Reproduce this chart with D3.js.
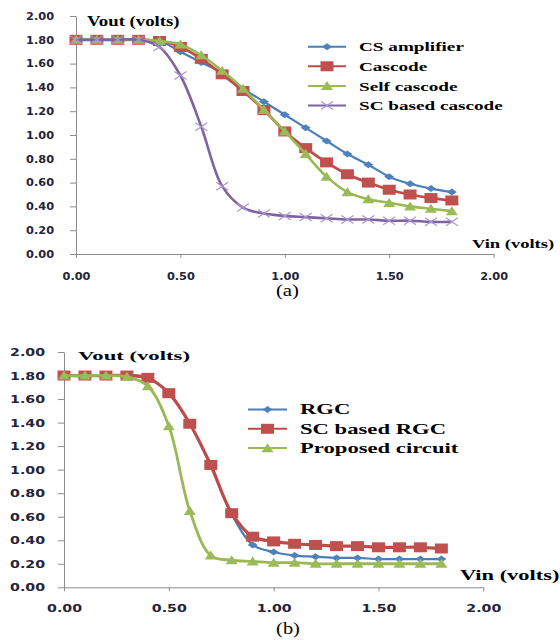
<!DOCTYPE html>
<html>
<head>
<meta charset="utf-8">
<script src="https://cdn.jsdelivr.net/npm/d3@7"></script>
<style>
  body { margin: 0; background: #fff; }
  svg { display: block; }
</style>
</head>
<body>
<svg id="chart" width="560" height="640"></svg>
<script>
// input voltage sweep, shared by both panels
const vin = [0.0, 0.1, 0.2, 0.3, 0.4, 0.5, 0.6, 0.7, 0.8, 0.9, 1.0, 1.1, 1.2, 1.3, 1.4, 1.5, 1.6, 1.7, 1.8]

// panel (a)
const csAmplifier = [1.80, 1.80, 1.80, 1.80, 1.79, 1.70, 1.61, 1.52, 1.39, 1.28, 1.17, 1.06, 0.95, 0.84, 0.75, 0.65, 0.59, 0.55, 0.52]
const cascode     = [1.80, 1.80, 1.80, 1.80, 1.79, 1.74, 1.64, 1.51, 1.37, 1.21, 1.03, 0.89, 0.77, 0.67, 0.60, 0.54, 0.50, 0.47, 0.45]
const selfCascode = [1.80, 1.80, 1.80, 1.80, 1.79, 1.76, 1.67, 1.54, 1.39, 1.21, 1.03, 0.84, 0.65, 0.52, 0.46, 0.43, 0.40, 0.38, 0.36]
const scCascode   = [1.80, 1.80, 1.80, 1.80, 1.74, 1.50, 1.07, 0.57, 0.39, 0.34, 0.32, 0.31, 0.30, 0.29, 0.29, 0.28, 0.28, 0.27, 0.27]
const namesA = ["CS amplifier", "Cascode", "Self cascode", "SC based cascode"]

// panel (b)
const rgc      = [1.80, 1.80, 1.80, 1.80, 1.77, 1.65, 1.39, 1.03, 0.62, 0.36, 0.30, 0.27, 0.26, 0.25, 0.25, 0.24, 0.24, 0.24, 0.24]
const scRgc    = [1.80, 1.80, 1.80, 1.80, 1.78, 1.65, 1.39, 1.04, 0.63, 0.43, 0.39, 0.37, 0.36, 0.35, 0.35, 0.34, 0.34, 0.34, 0.33]
const proposed = [1.80, 1.80, 1.80, 1.79, 1.71, 1.37, 0.65, 0.27, 0.23, 0.22, 0.21, 0.21, 0.20, 0.20, 0.20, 0.20, 0.20, 0.20, 0.20]
const namesB = ["RGC", "SC based RGC", "Proposed circuit"]

const xTicks = [0, 0.5, 1.0, 1.5, 2.0]
const yTicks = [0, 0.2, 0.4, 0.6, 0.8, 1.0, 1.2, 1.4, 1.6, 1.8, 2.0]

const serif = "'Liberation Serif', 'Times New Roman', serif"
const sans = "'DejaVu Sans', Verdana, sans-serif"
const axisColor = "#8c8c8c"
const labelColor = "#24243a"

const blue   = { line: "#4a7ebb", mark: "#4f81bd", width: 2.2, shape: "diamond", w: 10, h: 7 }
const red    = { line: "#be4b48", mark: "#c0504d", width: 2.8, shape: "square", w: 13, h: 10 }
const green  = { line: "#98b954", mark: "#9bbb59", width: 2.6, shape: "triangle", w: 12, h: 9 }
const purple = { line: "#7f63a1", mark: "#a994cf", width: 2.6, shape: "cross", w: 12, h: 8 }

const svg = d3.select("#chart")

// the scanned figure is stretched sideways, so text gets widened to match
function stretch (sel, sx) {
    sel.attr("lengthAdjust", "spacingAndGlyphs")
        .attr("textLength", function () { return this.getComputedTextLength() * sx })
}

function markerPath (shape, w, h) {
    const a = w / 2, b = h / 2
    if (shape == "diamond") return `M0,${-b}L${a},0L0,${b}L${-a},0Z`
    if (shape == "square") return `M${-a},${-b}H${a}V${b}H${-a}Z`
    if (shape == "triangle") return `M0,${-h * 0.55}L${a},${h * 0.45}L${-a},${h * 0.45}Z`
    return `M${-a},${-b}L${a},${b}M${a},${-b}L${-a},${b}`
}

function drawMarkers (g, points, st) {
    const cross = st.shape == "cross"
    g.selectAll(null).data(points).enter().append("path")
        .attr("transform", d => `translate(${d[0]},${d[1]})`)
        .attr("d", markerPath(st.shape, st.w, st.h))
        .attr("fill", cross ? "none" : st.mark)
        .attr("stroke", cross ? st.mark : "none")
        .attr("stroke-width", cross ? 1.2 : 0)
}

function panel (cfg) {
    const x = d3.scaleLinear().domain([0, 2]).range([cfg.left, cfg.right])
    const y = d3.scaleLinear().domain([0, 2]).range([cfg.bottom, cfg.top])
    const g = svg.append("g")

    const yAxis = g.append("g")
        .attr("transform", `translate(${cfg.left},0)`)
        .call(d3.axisLeft(y).tickValues(yTicks).tickFormat(d3.format(".2f"))
            .tickSize(6).tickSizeOuter(0).tickPadding(cfg.yPad))
    const xAxis = g.append("g")
        .attr("transform", `translate(0,${cfg.bottom})`)
        .call(d3.axisBottom(x).tickValues(xTicks).tickFormat(d3.format(".2f"))
            .tickSize(4).tickSizeOuter(0).tickPadding(cfg.xPad))

    ;[yAxis, xAxis].forEach(a => {
        a.attr("font-family", sans).attr("font-size", cfg.tickFont).attr("font-weight", "bold")
        a.select(".domain").attr("stroke", axisColor)
        a.selectAll(".tick line").attr("stroke", axisColor)
        a.selectAll(".tick text").attr("fill", labelColor).call(stretch, cfg.tickStretch)
    })

    const line = d3.line()
        .x((d, i) => x(vin[i]))
        .y(d => y(d))
        .curve(d3.curveCatmullRom.alpha(0.5))

    cfg.series.forEach((values, k) => {
        const st = cfg.styles[k]
        g.append("path")
            .attr("d", line(values))
            .attr("fill", "none")
            .attr("stroke", st.line)
            .attr("stroke-width", st.width)
        drawMarkers(g, values.map((v, i) => [x(vin[i]), y(v)]), st)
    })

    // legend
    const lg = g.append("g")
    cfg.names.forEach((name, k) => {
        const st = cfg.styles[k]
        const ly = cfg.legend.y + k * cfg.legend.step
        lg.append("line")
            .attr("x1", cfg.legend.x0).attr("x2", cfg.legend.x1)
            .attr("y1", ly).attr("y2", ly)
            .attr("stroke", st.line).attr("stroke-width", 2)
        drawMarkers(lg, [[(cfg.legend.x0 + cfg.legend.x1) / 2, ly]], st)
        lg.append("text")
            .attr("x", cfg.legend.tx).attr("y", ly + cfg.legend.dy)
            .attr("font-family", serif).attr("font-weight", "bold")
            .attr("font-size", cfg.legend.font).attr("fill", "#000")
            .text(name)
            .call(stretch, cfg.legend.sx)
    })

    cfg.labels.forEach(l => {
        g.append("text")
            .attr("x", l.x).attr("y", l.y)
            .attr("font-family", serif)
            .attr("font-weight", l.bold ? "bold" : "normal")
            .attr("font-size", l.size)
            .attr("text-anchor", l.anchor || "start")
            .attr("fill", "#000")
            .text(l.text)
            .call(stretch, l.sx)
    })
}

panel({
    left: 76, right: 493.6, top: 16, bottom: 254,
    yPad: 16, xPad: 15, tickFont: 10, tickStretch: 1.13,
    series: [csAmplifier, cascode, selfCascode, scCascode],
    styles: [blue, red, green, purple],
    names: namesA,
    legend: { x0: 308, x1: 346, tx: 359, y: 46.7, step: 19.6, dy: 4.6, font: 13.5, sx: 1.42 },
    labels: [
        { text: "Vout (volts)", x: 87, y: 25.5, size: 14, bold: true, sx: 1.34 },
        { text: "Vin (volts)", x: 472, y: 247.5, size: 12.5, bold: true, sx: 1.48 },
        { text: "(a)", x: 287.5, y: 296, size: 16, anchor: "middle", sx: 1.3 },
    ],
})

panel({
    left: 64, right: 483.3, top: 352, bottom: 587.3,
    yPad: 13, xPad: 13, tickFont: 11, tickStretch: 1.29,
    series: [rgc, scRgc, proposed],
    styles: [blue, { ...red, width: 3.2 }, { ...green, width: 2.8 }],
    names: namesB,
    legend: { x0: 248, x1: 287, tx: 300, y: 409.5, step: 19.3, dy: 4.7, font: 15, sx: 1.51 },
    labels: [
        { text: "Vout (volts)", x: 78, y: 359.5, size: 13.5, bold: true, sx: 1.68 },
        { text: "Vin (volts)", x: 460, y: 580, size: 14, bold: true, sx: 1.6 },
        { text: "(b)", x: 288, y: 634, size: 17, anchor: "middle", sx: 1.2 },
    ],
})
</script>
</body>
</html>
